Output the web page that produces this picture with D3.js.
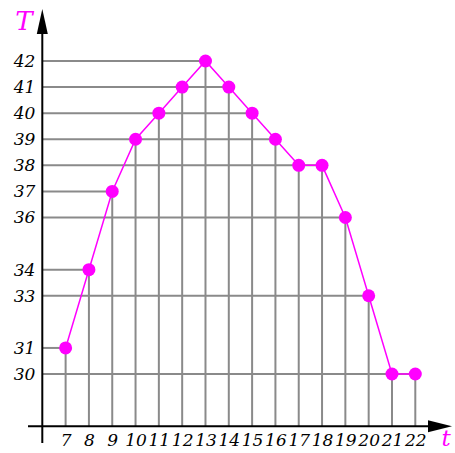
<!DOCTYPE html>
<html><head><meta charset="utf-8">
<script src="https://cdn.jsdelivr.net/npm/d3@7/dist/d3.min.js"></script>
<style>
html,body{margin:0;padding:0;background:#fff;}
svg{display:block;}
text{font-family:"DejaVu Serif",serif;font-style:italic;}
</style></head>
<body>
<script>
const hours = [7,8,9,10,11,12,13,14,15,16,17,18,19,20,21,22];
const temps = [31,34,37,39,40,41,42,41,40,39,38,38,36,33,30,30];
const yTickValues = [30,31,33,34,36,37,38,39,40,41,42];
const xTickValues = hours;
const xLabel = "t";
const yLabel = "T";

const W = 455, H = 453;
const svg = d3.select("body").append("svg").attr("width", W).attr("height", H);

const x = d3.scaleLinear().domain([6, 22]).range([42.3, 415.3]);
const y = d3.scaleLinear().domain([28, 42]).range([426.2, 61]);
const x0 = x(6), y0 = y(28);

const data = hours.map((h, i) => ({t: h, T: temps[i]}));

const hLines = yTickValues.map(v => {
  const pts = data.filter(d => d.T === v);
  return {v, t: d3.max(pts, d => d.t)};
});
const grid = svg.append("g").attr("stroke", "#8a8a8a").attr("stroke-width", 2);
grid.selectAll("line.h").data(hLines).join("line")
  .attr("x1", x0).attr("x2", d => x(d.t))
  .attr("y1", d => y(d.v)).attr("y2", d => y(d.v));
grid.selectAll("line.v").data(data).join("line")
  .attr("x1", d => x(d.t)).attr("x2", d => x(d.t))
  .attr("y1", y0).attr("y2", d => y(d.T));

const ax = svg.append("g").attr("stroke", "#000").attr("stroke-width", 2);
ax.append("line").attr("x1", 28).attr("x2", 440).attr("y1", y0).attr("y2", y0);
ax.append("line").attr("x1", x0).attr("x2", x0).attr("y1", 443).attr("y2", 30);
svg.append("path").attr("fill", "#000")
  .attr("d", `M${x0},9 L${x0-5.5},34 L${x0+5.5},34 Z`);
svg.append("path").attr("fill", "#000")
  .attr("d", `M452,${y0} L428,${y0-6} L428,${y0+6} Z`);

const yAxis = d3.axisLeft(y).tickValues(yTickValues).tickSize(0).tickPadding(7);
const gy = svg.append("g").attr("transform", `translate(${x0},0)`).call(yAxis);
gy.select(".domain").remove();
gy.selectAll("text").attr("font-size", 17).attr("fill", "#000")
  .style("font-family", "'DejaVu Serif',serif").style("font-style", "italic");

const xAxis = d3.axisBottom(x).tickValues(xTickValues).tickSize(0).tickPadding(8);
const gx = svg.append("g").attr("transform", `translate(0,${y0})`).call(xAxis);
gx.select(".domain").remove();
gx.selectAll("text").attr("font-size", 17).attr("fill", "#000")
  .style("font-family", "'DejaVu Serif',serif").style("font-style", "italic");

svg.append("path").datum(data)
  .attr("fill", "none").attr("stroke", "#ff00ff").attr("stroke-width", 1.5)
  .attr("d", d3.line().x(d => x(d.t)).y(d => y(d.T)));
svg.append("g").selectAll("circle").data(data).join("circle")
  .attr("cx", d => x(d.t)).attr("cy", d => y(d.T)).attr("r", 6.5)
  .attr("fill", "#ff00ff");

svg.append("text").attr("x", 24).attr("y", 30).attr("text-anchor", "middle")
  .attr("font-size", 26).attr("fill", "#ff00ff").text(yLabel);
svg.append("text").attr("x", 446).attr("y", 446).attr("text-anchor", "middle")
  .attr("font-size", 23).attr("fill", "#ff00ff").text(xLabel);
</script>
</body></html>
